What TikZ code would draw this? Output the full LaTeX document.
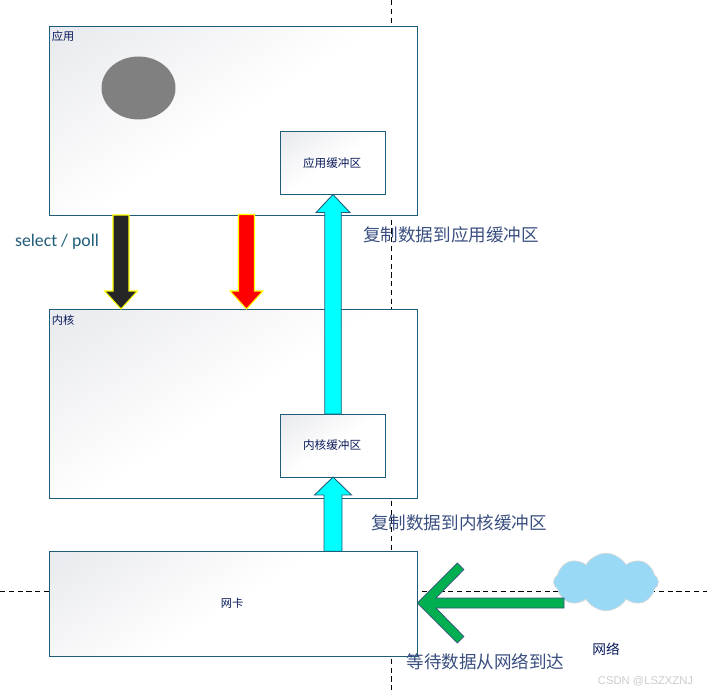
\documentclass[tikz,border=0pt]{standalone}
\usepackage{fontspec}
\setmainfont{Noto Sans CJK SC}
\newfontfamily\latinfont{Carlito}
\newfontfamily\markfont{Liberation Sans}
\usetikzlibrary{
  arrows.meta, positioning, calc, shapes.geometric, shapes.symbols
}
\definecolor{tealA}{HTML}{1F5C7A}
\definecolor{navyA}{HTML}{0A1A5C}
\definecolor{slateA}{HTML}{3A4F80}
\definecolor{grayA}{HTML}{808080}
\definecolor{grayB}{HTML}{EAEBEE}
\definecolor{blackA}{HTML}{262626}
\definecolor{yellowA}{HTML}{FFFF00}
\definecolor{cyanA}{HTML}{00FFFF}
\definecolor{greenA}{HTML}{00B050}
\definecolor{cloudA}{HTML}{99D9F6}
\pgfdeclarehorizontalshading{panelfade}{100bp}{
  color(0bp)=(grayB); color(18bp)=(grayB); color(50bp)=(white); color(100bp)=(white)
}
\tikzset{
  panel/.style={
    draw=tealA, shading=panelfade, shading angle=-57, line width=0.5pt, outer sep=0pt,
    inner sep=0pt, minimum width=7.36cm, minimum height=#1
  },
  bufbox/.style={
    draw=tealA, shading=panelfade, shading angle=-57, line width=0.5pt, outer sep=0pt,
    inner sep=0pt, minimum width=2.1cm, minimum height=1.26cm,
    font=\fontsize{6.6pt}{8pt}\selectfont, text=navyA
  },
  tag/.style={font=\fontsize{6.4pt}{8pt}\selectfont, text=navyA, inner sep=0pt},
  note/.style={font=\fontsize{10pt}{12pt}\selectfont, text=slateA, inner sep=0pt},
  guide/.style={densely dashed, line width=0.5pt},
  blockdown/.style={draw=yellowA, fill=#1, line width=0.6pt, line join=miter},
  blockup/.style={draw=tealA, fill=cyanA, line width=0.5pt, line join=miter}
}
\newcommand{\blockarrow}[5]{
  \draw[#3] let \p1=(#1), \p2=(#2) in
    (\x1-#4,\y1) -- (\x1-#4,\y2-#5*0.36cm) -- (\x1-#4*2.05,\y2-#5*0.36cm)
    -- (\x2,\y2) -- (\x1+#4*2.05,\y2-#5*0.36cm) -- (\x1+#4,\y2-#5*0.36cm) -- (\x1+#4,\y1) -- cycle;
}
\begin{document}
\begin{tikzpicture}[x=0.02cm, y=-0.02cm]
  \useasboundingbox (0,0) rectangle (707,694);
  \coordinate (vtop) at (391.5,0);
  \coordinate (vbot) at (391.5,694);
  \coordinate (hleft) at (0,591);
  \coordinate (hright) at (707,591);
  \draw[guide] (vtop) -- (vbot);
  \draw[guide] (hleft) -- (hright);

  \node[panel=3.78cm, anchor=north west] (app) at (49.5,26) {};
  \node[panel=3.78cm, below=1.89cm of app] (kernel) {};
  \node[panel=2.1cm, below=1.06cm of kernel] (nic) {};
  \node[bufbox] (appbuf) at (333,163) {\hspace*{-1pt}应用缓冲区};
  \node[bufbox] (kernelbuf) at (333,445.5) {\hspace*{-1pt}内核缓冲区};

  \node[tag, anchor=north west] (applabel) at (51.5,31) {应用};
  \node[tag, anchor=north west] (kernellabel) at (51.5,315) {内核};
  \node[tag] (niclabel) at (232,603.5) {网卡};
  \node[draw=none, fill=grayA, ellipse, minimum width=1.48cm, minimum height=1.26cm, inner sep=0pt] (proc) at (138.5,88) {};

  \node[cloud, cloud puffs=8, cloud puff arc=120, aspect=1.8, draw=gray!30, fill=cloudA,
    line width=0.4pt, minimum width=2.1cm, minimum height=1.15cm, inner sep=0pt] (net) at (606,582) {};
  \node[font=\fontsize{7.8pt}{9pt}\selectfont, text=navyA, inner sep=0pt] (netlabel) at (606,649) {网络};

  \coordinate (selecttop) at (121,215);
  \coordinate (selectend) at (121,309);
  \coordinate (readtop) at (246.5,214.5);
  \coordinate (readend) at (246.5,309);
  \coordinate (nicout) at (kernelbuf.south |- nic.north);
  \blockarrow{selecttop}{selectend}{blockdown=blackA}{0.16cm}{-1}
  \blockarrow{readtop}{readend}{blockdown=red}{0.16cm}{-1}
  \blockarrow{kernelbuf.north}{appbuf.south}{blockup}{0.165cm}{1}
  \blockarrow{nicout}{kernelbuf.south}{blockup}{0.18cm}{1}

  \coordinate (netout) at (564,603);
  \draw[draw=slateA, fill=greenA, line width=0.4pt, line join=miter] let \p1=(netout), \p2=(nic.east) in
    (\x1,\y1+0.1cm) -- (\x2+0.37cm,\y1+0.1cm) -- (\x2+0.93cm,\y1+0.67cm) -- (\x2+0.8cm,\y1+0.8cm)
    -- (\x2,\y1) -- (\x2+0.8cm,\y1-0.8cm) -- (\x2+0.93cm,\y1-0.67cm) -- (\x2+0.37cm,\y1-0.1cm)
    -- (\x1,\y1-0.1cm) -- cycle;

  \node[font=\latinfont\fontsize{10.1pt}{12pt}\selectfont, text=tealA, inner sep=0pt] (selectlabel) at (57,242) {select / poll};
  \node[note] (copyapp) at (451,234.5) {复制数据到应用缓冲区};
  \node[note] (copykernel) at (459,522.5) {复制数据到内核缓冲区};
  \node[note] (waitnet) at (485.5,661.5) {等待数据从网络到达};
  \node[font=\markfont\fontsize{6.4pt}{8pt}\selectfont, text=gray!40, inner sep=0pt] (mark) at (645.5,681) {CSDN @LSZXZNJ};
\end{tikzpicture}
\end{document}
